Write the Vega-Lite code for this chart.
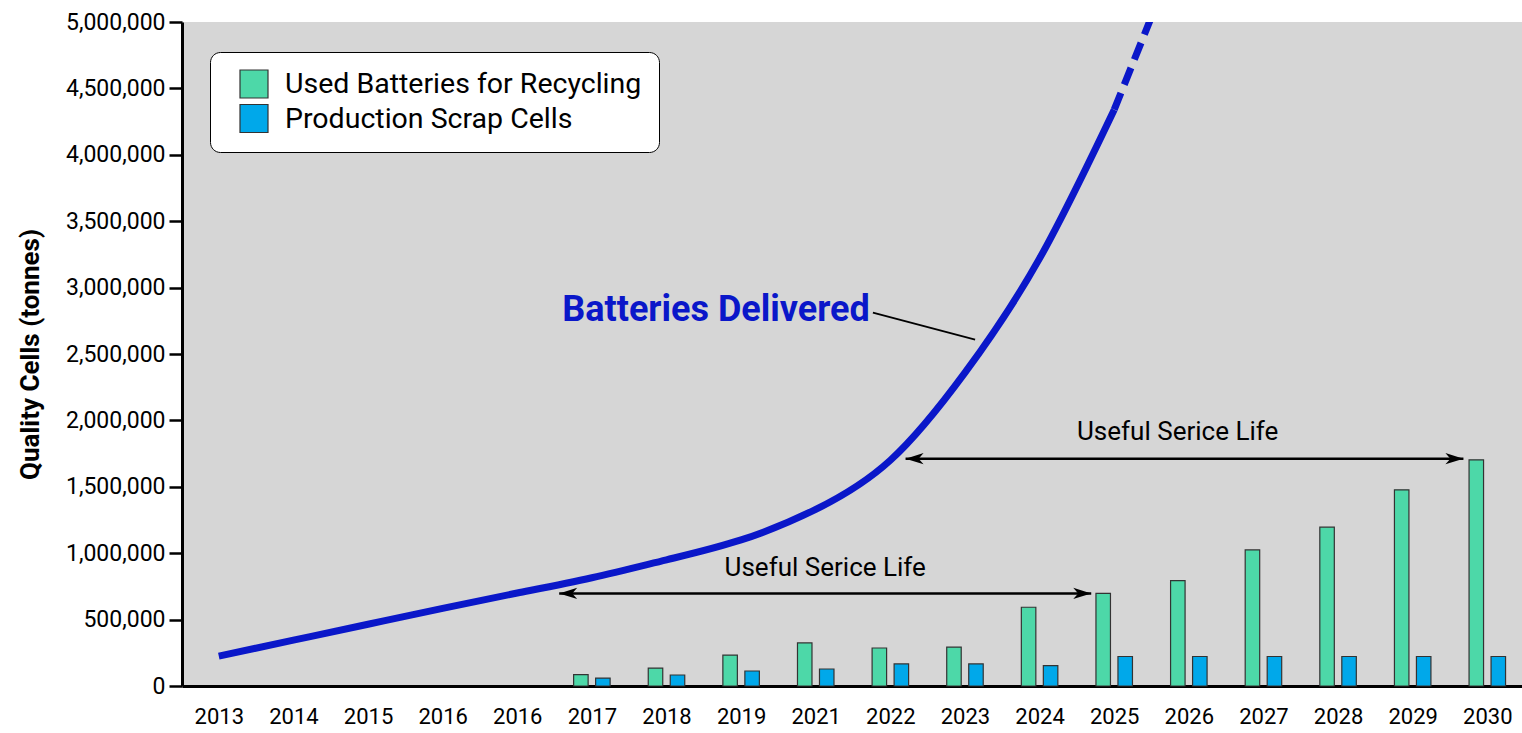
{
  "$schema": "https://vega.github.io/schema/vega-lite/v6.json",
  "width": 1340,
  "height": 664,
  "autosize": "none",
  "padding": {"left": 182, "top": 22, "right": 0, "bottom": 47},
  "background": "white",
  "config": {
    "view": {"stroke": null, "fill": "#d6d6d6"},
    "font": "Roboto"
  },
  "datasets": {
    "bars": [
      {"pos": 5, "year": "2017", "series": "Used Batteries for Recycling", "tonnes": 85000},
      {"pos": 5, "year": "2017", "series": "Production Scrap Cells", "tonnes": 60000},
      {"pos": 6, "year": "2018", "series": "Used Batteries for Recycling", "tonnes": 135000},
      {"pos": 6, "year": "2018", "series": "Production Scrap Cells", "tonnes": 83000},
      {"pos": 7, "year": "2019", "series": "Used Batteries for Recycling", "tonnes": 233000},
      {"pos": 7, "year": "2019", "series": "Production Scrap Cells", "tonnes": 113000},
      {"pos": 8, "year": "2021", "series": "Used Batteries for Recycling", "tonnes": 324000},
      {"pos": 8, "year": "2021", "series": "Production Scrap Cells", "tonnes": 128000},
      {"pos": 9, "year": "2022", "series": "Used Batteries for Recycling", "tonnes": 286000},
      {"pos": 9, "year": "2022", "series": "Production Scrap Cells", "tonnes": 166000},
      {"pos": 10, "year": "2023", "series": "Used Batteries for Recycling", "tonnes": 293000},
      {"pos": 10, "year": "2023", "series": "Production Scrap Cells", "tonnes": 166000},
      {"pos": 11, "year": "2024", "series": "Used Batteries for Recycling", "tonnes": 593000},
      {"pos": 11, "year": "2024", "series": "Production Scrap Cells", "tonnes": 154000},
      {"pos": 12, "year": "2025", "series": "Used Batteries for Recycling", "tonnes": 697000},
      {"pos": 12, "year": "2025", "series": "Production Scrap Cells", "tonnes": 222000},
      {"pos": 13, "year": "2026", "series": "Used Batteries for Recycling", "tonnes": 794000},
      {"pos": 13, "year": "2026", "series": "Production Scrap Cells", "tonnes": 222000},
      {"pos": 14, "year": "2027", "series": "Used Batteries for Recycling", "tonnes": 1025000},
      {"pos": 14, "year": "2027", "series": "Production Scrap Cells", "tonnes": 222000},
      {"pos": 15, "year": "2028", "series": "Used Batteries for Recycling", "tonnes": 1196000},
      {"pos": 15, "year": "2028", "series": "Production Scrap Cells", "tonnes": 222000},
      {"pos": 16, "year": "2029", "series": "Used Batteries for Recycling", "tonnes": 1477000},
      {"pos": 16, "year": "2029", "series": "Production Scrap Cells", "tonnes": 222000},
      {"pos": 17, "year": "2030", "series": "Used Batteries for Recycling", "tonnes": 1703000},
      {"pos": 17, "year": "2030", "series": "Production Scrap Cells", "tonnes": 222000}
    ],
    "delivered": [
      {"pos": 0, "year": "2013", "segment": "actual", "tonnes": 225000},
      {"pos": 1, "year": "2014", "segment": "actual", "tonnes": 345000},
      {"pos": 2, "year": "2015", "segment": "actual", "tonnes": 465000},
      {"pos": 3, "year": "2016", "segment": "actual", "tonnes": 585000},
      {"pos": 4, "year": "2016", "segment": "actual", "tonnes": 700000},
      {"pos": 5, "year": "2017", "segment": "actual", "tonnes": 815000},
      {"pos": 6, "year": "2018", "segment": "actual", "tonnes": 950000},
      {"pos": 7, "year": "2019", "segment": "actual", "tonnes": 1100000},
      {"pos": 8, "year": "2021", "segment": "actual", "tonnes": 1330000},
      {"pos": 9, "year": "2022", "segment": "actual", "tonnes": 1700000},
      {"pos": 10, "year": "2023", "segment": "actual", "tonnes": 2360000},
      {"pos": 11, "year": "2024", "segment": "actual", "tonnes": 3220000},
      {"pos": 12, "year": "2025", "segment": "actual", "tonnes": 4340000},
      {"pos": 12, "year": "2025", "segment": "projected", "tonnes": 4340000},
      {"pos": 13, "year": "2026", "segment": "projected", "tonnes": 5740000}
    ],
    "arrows": [
      {"pos": 4.562, "pos_end": 11.692, "tonnes": 697000},
      {"pos": 9.204, "pos_end": 16.68, "tonnes": 1712000}
    ],
    "notes": [
      {"pos": 6.664, "tonnes": 2835000, "kind": "series", "text": "Batteries Delivered"},
      {"pos": 8.127, "tonnes": 885000, "kind": "span", "text": "Useful Serice Life"},
      {"pos": 12.85, "tonnes": 1909000, "kind": "span", "text": "Useful Serice Life"}
    ],
    "leader": [
      {"pos": 8.766, "pos_end": 10.136, "tonnes": 2812000, "tonnes_end": 2609000}
    ]
  },
  "encoding": {
    "x": {
      "field": "pos",
      "type": "quantitative",
      "title": null,
      "scale": {"domain": [-0.426, 17.398], "nice": false, "zero": false},
      "axis": {
        "title": null,
        "values": [0, 1, 2, 3, 4, 5, 6, 7, 8, 9, 10, 11, 12, 13, 14, 15, 16, 17],
        "labelExpr": "['2013','2014','2015','2016','2016','2017','2018','2019','2021','2022','2023','2024','2025','2026','2027','2028','2029','2030'][datum.value]",
        "ticks": false,
        "grid": false,
        "domainColor": "black",
        "domainWidth": 3,
        "labelFont": "Roboto",
        "labelFontSize": 22,
        "labelColor": "black",
        "labelPadding": 20,
        "labelFlush": false,
        "labelOverlap": false
      }
    },
    "y": {
      "field": "tonnes",
      "type": "quantitative",
      "title": "Quality Cells (tonnes)",
      "scale": {"domain": [0, 5000000], "nice": false},
      "axis": {
        "values": [0, 500000, 1000000, 1500000, 2000000, 2500000, 3000000, 3500000, 4000000, 4500000, 5000000],
        "format": ",.0f",
        "grid": false,
        "domainColor": "black",
        "domainWidth": 3,
        "tickColor": "black",
        "tickWidth": 2.5,
        "tickSize": 13,
        "labelFont": "Roboto",
        "labelFontSize": 23,
        "labelPadding": 4,
        "labelColor": "black",
        "labelFlush": false,
        "labelOverlap": false,
        "titleFont": "Roboto",
        "titleFontSize": 26,
        "titleFontWeight": "bold",
        "titleColor": "black",
        "titlePadding": 22
      }
    }
  },
  "layer": [
    {
      "data": {"name": "bars"},
      "transform": [{"filter": "datum.series === 'Used Batteries for Recycling'"}],
      "mark": {"type": "bar", "width": 14.5, "xOffset": -11, "stroke": "#333333", "strokeWidth": 1.2},
      "encoding": {
        "color": {
          "field": "series",
          "type": "nominal",
          "scale": {"domain": ["Used Batteries for Recycling", "Production Scrap Cells"], "range": ["#4dd8a8", "#00a8ea"]},
          "legend": {
            "title": null,
            "orient": "none",
            "legendX": 28,
            "legendY": 30,
            "direction": "vertical",
            "symbolType": "square",
            "symbolSize": 784,
            "symbolStrokeColor": "#333333",
            "symbolStrokeWidth": 1.2,
            "symbolOpacity": 1,
            "symbolOffset": 12,
            "labelFont": "Roboto",
            "labelFontSize": 28.5,
            "labelColor": "black",
            "labelOffset": 16,
            "labelLimit": 0,
            "fillColor": "white",
            "strokeColor": "black",
            "cornerRadius": 10,
            "padding": 17,
            "rowPadding": 0.5
          }
        }
      }
    },
    {
      "data": {"name": "bars"},
      "transform": [{"filter": "datum.series === 'Production Scrap Cells'"}],
      "mark": {"type": "bar", "width": 14.5, "xOffset": 11, "stroke": "#333333", "strokeWidth": 1.2},
      "encoding": {
        "color": {
          "field": "series",
          "type": "nominal",
          "scale": {"domain": ["Used Batteries for Recycling", "Production Scrap Cells"], "range": ["#4dd8a8", "#00a8ea"]}
        }
      }
    },
    {
      "data": {"name": "delivered"},
      "transform": [{"filter": "datum.segment === 'actual'"}],
      "mark": {"type": "line", "color": "#0a17c9", "strokeWidth": 7, "interpolate": "natural", "clip": true},
      "encoding": {}
    },
    {
      "data": {"name": "delivered"},
      "transform": [{"filter": "datum.segment === 'projected'"}],
      "mark": {"type": "line", "color": "#0a17c9", "strokeWidth": 7, "strokeDash": [18, 9], "clip": true},
      "encoding": {}
    },
    {
      "data": {"name": "arrows"},
      "mark": {"type": "rule", "color": "black", "strokeWidth": 2.5},
      "encoding": {"x2": {"field": "pos_end"}}
    },
    {
      "data": {"name": "arrows"},
      "mark": {"type": "point", "shape": "M0,0L2,-0.62L1.45,0L2,0.62Z", "size": 324, "filled": true, "color": "black", "opacity": 1},
      "encoding": {}
    },
    {
      "data": {"name": "arrows"},
      "mark": {"type": "point", "shape": "M0,0L-2,-0.62L-1.45,0L-2,0.62Z", "size": 324, "filled": true, "color": "black", "opacity": 1},
      "encoding": {"x": {"field": "pos_end", "type": "quantitative", "title": null}}
    },
    {
      "data": {"name": "leader"},
      "mark": {"type": "rule", "color": "black", "strokeWidth": 1.8},
      "encoding": {"x2": {"field": "pos_end"}, "y2": {"field": "tonnes_end"}}
    },
    {
      "data": {"name": "notes"},
      "transform": [{"filter": "datum.kind === 'series'"}],
      "mark": {"type": "text", "font": "Roboto", "color": "#0a17c9", "fontSize": 36, "fontWeight": "bold", "align": "center", "baseline": "middle"},
      "encoding": {"text": {"field": "text"}}
    },
    {
      "data": {"name": "notes"},
      "transform": [{"filter": "datum.kind === 'span'"}],
      "mark": {"type": "text", "font": "Roboto", "color": "black", "fontSize": 26, "align": "center", "baseline": "middle"},
      "encoding": {"text": {"field": "text"}}
    },
    {
      "data": {"values": [{"edge": "top"}]},
      "mark": {"type": "rule", "color": "black", "strokeWidth": 3},
      "encoding": {"x": {"datum": -0.426}, "x2": {"datum": 17.398}, "y": {"datum": 5000000}}
    }
  ]
}
